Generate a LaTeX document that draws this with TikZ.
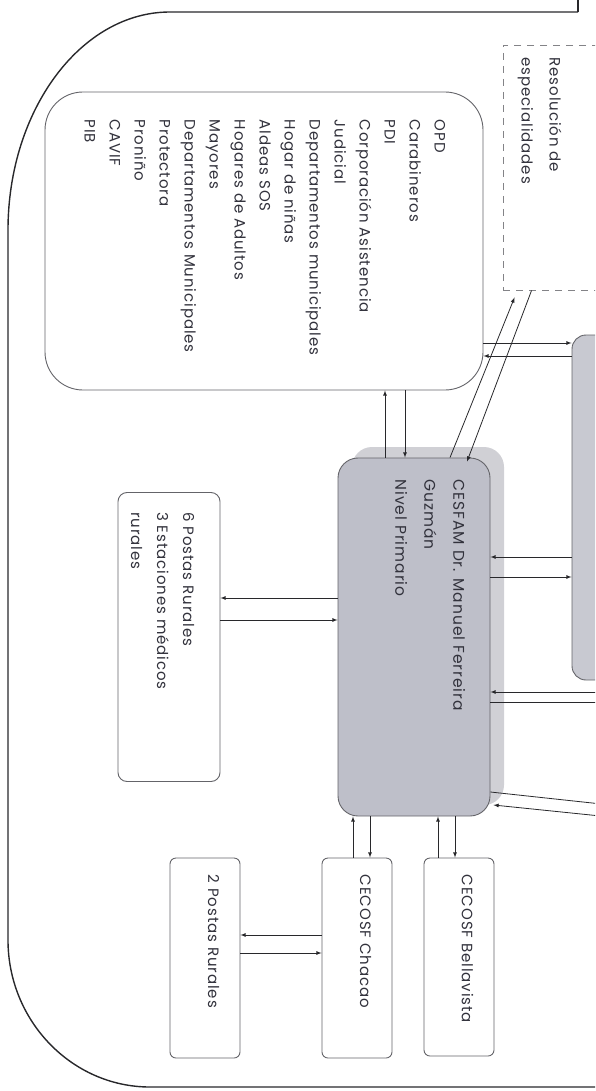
\documentclass[tikz,border=0pt]{standalone}
\usepackage{fontspec}
\setmainfont[LetterSpace=6]{Poppins}
\usepackage{xcolor}
\usepackage{tikz}
\usetikzlibrary{shapes,arrows,positioning,shadows}
\definecolor{framegray}{RGB}{40,40,43}
\definecolor{linegray}{RGB}{100,100,105}
\definecolor{textgray}{RGB}{50,50,60}
\definecolor{boxgray}{RGB}{190,191,201}
\definecolor{shadowgray}{RGB}{208,208,213}
\tikzset{
  frame/.style={draw=framegray, line width=1.4pt},
  box/.style={draw=linegray, line width=0.9pt, rounded corners=6pt, fill=white, inner sep=0pt},
  listbox/.style={box, rounded corners=38pt},
  specbox/.style={draw=linegray!80, line width=0.9pt, dash pattern=on 7pt off 6pt, inner sep=0pt},
  cesfambox/.style={box, rounded corners=20pt, fill=boxgray,
    drop shadow={shadow xshift=14pt, shadow yshift=11pt, fill=shadowgray, opacity=1}},
  sidebox/.style={box, rounded corners=14pt, fill=boxgray!85},
  txt/.style={rotate=-90, anchor=north west, inner sep=0pt, align=left, text=textgray,
    font=\fontsize{15}{25}\selectfont},
  arr/.style={-latex, line width=0.8pt, draw=framegray}
}

\begin{document}
\begin{tikzpicture}[x=1pt,y=-1pt]
  \useasboundingbox (0,0) rectangle (595,1091);
  \clip (0,0) rectangle (595,1091);

  % frame
  \draw[frame] (578,0) -- (578,12);
  \draw[frame] (578,12) -- (170,12) .. controls (81,12) and (8,110) .. (8,230)
    -- (8,940) .. controls (8,1021) and (72,1087) .. (150,1087) -- (600,1087);

  % boxes
  \node[specbox, minimum width=140pt, minimum height=245pt] (spec) at (573,167.5) {};
  \node[listbox, minimum width=438pt, minimum height=298pt] (list) at (264,241) {};
  \node[sidebox, minimum width=88pt, minimum height=345pt] (side) at (616,507.5) {};
  \node[cesfambox, minimum width=152pt, minimum height=358pt] (cesfam) at (414,637) {};
  \node[box, minimum width=102pt, minimum height=289pt, rounded corners=9pt] (postas6) at (169,637) {};
  \node[box, minimum width=70pt, minimum height=200pt] (postas2) at (205,958) {};
  \node[box, minimum width=70pt, minimum height=200pt] (chacao) at (357,958) {};
  \node[box, minimum width=70pt, minimum height=198pt] (bellavista) at (459,957) {};

  % texts
  \node[txt, font=\fontsize{15}{28}\selectfont] (spec-txt) at ([xshift=59pt,yshift=-13pt]spec.north west)
    {Resolución de\\especialidades};
  \node[txt] (list-txt) at ([xshift=-38pt,yshift=-28pt]list.north east)
    {OPD\\Carabineros\\PDI\\Corporación Asistencia\\Judicial\\Departamentos municipales\\Hogar de niñas\\Aldeas SOS\\Hogares de Adultos\\Mayores\\Departamentos Municipales\\Protectora\\Proniño\\CAVIF\\PIB};
  \node[txt, font=\fontsize{15.5}{29}\selectfont] (cesfam-txt) at ([xshift=-25pt,yshift=-22pt]cesfam.north east)
    {CESFAM Dr. Manuel Ferreira\\Guzmán\\Nivel Primario};
  \node[txt, font=\fontsize{15}{26}\selectfont] (postas6-txt) at ([xshift=-26pt,yshift=-20pt]postas6.north east)
    {6 Postas Rurales\\3 Estaciones médicos\\rurales};
  \node[txt] (postas2-txt) at ([xshift=-21pt,yshift=-17pt]postas2.north east) {2 Postas Rurales};
  \node[txt] (chacao-txt) at ([xshift=-21pt,yshift=-17pt]chacao.north east) {CECOSF Chacao};
  \node[txt] (bellavista-txt) at ([xshift=-21pt,yshift=-17pt]bellavista.north east) {CECOSF Bellavista};

  % free ends at the right border
  \coordinate (out1) at (600,692);
  \coordinate (out2) at (610,702);
  \coordinate (out3) at (620,806);
  \coordinate (out4) at (620,818);

  % connectors
  \draw[arr] ([xshift=-29pt]cesfam.north) -- ([xshift=121pt]list.south);
  \draw[arr] ([xshift=141pt]list.south) -- ([xshift=-9pt]cesfam.north);
  \draw[arr] ([xshift=36pt]cesfam.north) -- ([xshift=12pt,yshift=-7pt]spec.south west);
  \draw[arr] ([xshift=29pt]spec.south west) -- ([xshift=53pt,yshift=-4pt]cesfam.north);
  \draw[arr] ([yshift=-102pt]list.east) -- ([yshift=164.5pt]side.west);
  \draw[arr] ([yshift=151.5pt]side.west) -- ([yshift=-115pt]list.east);
  \draw[arr] ([yshift=-49.5pt]side.west) -- ([yshift=80pt]cesfam.east);
  \draw[arr] ([yshift=60pt]cesfam.east) -- ([yshift=-69.5pt]side.west);
  \draw[arr] (out1) -- ([yshift=-55pt]cesfam.east);
  \draw[arr] ([yshift=-65pt]cesfam.east) -- (out2);
  \draw[arr] ([yshift=-155pt]cesfam.east) -- (out3);
  \draw[arr] (out4) -- ([xshift=3pt,yshift=-168pt]cesfam.east);
  \draw[arr] ([yshift=39pt]cesfam.west) -- ([yshift=39pt]postas6.east);
  \draw[arr] ([yshift=17pt]postas6.east) -- ([yshift=17pt]cesfam.west);
  \draw[arr] ([xshift=-4pt]chacao.north) -- ([xshift=-61pt]cesfam.south);
  \draw[arr] ([xshift=-44pt]cesfam.south) -- ([xshift=13pt]chacao.north);
  \draw[arr] ([xshift=-21pt]bellavista.north) -- ([xshift=24pt]cesfam.south);
  \draw[arr] ([xshift=41pt]cesfam.south) -- ([xshift=-4pt]bellavista.north);
  \draw[arr] ([yshift=23pt]chacao.west) -- ([yshift=23pt]postas2.east);
  \draw[arr] ([yshift=5pt]postas2.east) -- ([yshift=5pt]chacao.west);
\end{tikzpicture}
\end{document}
